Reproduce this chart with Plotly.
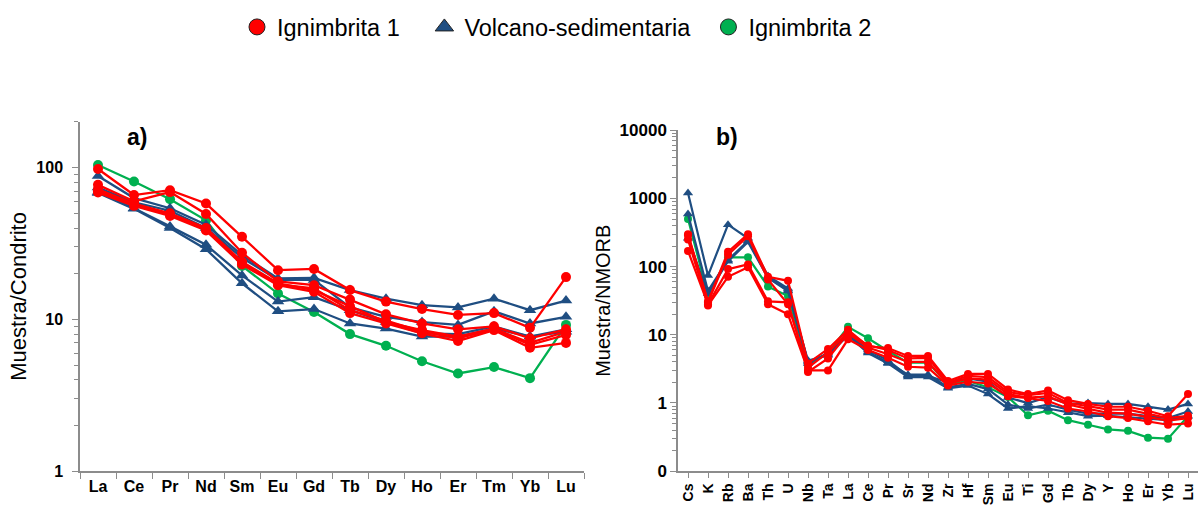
import plotly.graph_objects as go

# ---- categories ----
ree = ["La", "Ce", "Pr", "Nd", "Sm", "Eu", "Gd", "Tb", "Dy", "Ho", "Er", "Tm", "Yb", "Lu"]
spider = ["Cs", "K", "Rb", "Ba", "Th", "U", "Nb", "Ta", "La", "Ce", "Pr", "Sr", "Nd",
          "Zr", "Hf", "Sm", "Eu", "Ti", "Gd", "Tb", "Dy", "Y", "Ho", "Er", "Yb", "Lu"]

# ---- a) chondrite-normalised REE ----
ign1_ree_1 = [98, 66, 71, 58, 35, 21.1, 21.5, 15.6, 13.1, 11.7, 10.7, 11.0, 8.8, 19.0]
ign1_ree_2 = [77, 60, 69, 49.5, 27.5, 17.8, 16.8, 13.5, 10.8, 9.4, 8.6, 9.0, 7.5, 8.6]
ign1_ree_3 = [72, 58, 50, 40, 24, 17.3, 15.6, 12.2, 9.6, 8.5, 7.7, 8.7, 7.0, 8.3]
ign1_ree_4 = [68.5, 56, 48, 38.5, 23, 16.8, 15.2, 11.0, 9.4, 8.1, 7.2, 8.5, 6.5, 7.0]
ign1_ree_5 = [70, 57, 49, 39, 23.5, 17.0, 16.0, 11.5, 9.8, 8.3, 7.5, 8.6, 6.8, 7.9]

volc_ree_1 = [88, 63, 54, 42, 26.5, 18.6, 18.8, 15.6, 13.7, 12.4, 12.0, 13.7, 11.5, 13.3]
volc_ree_2 = [74, 59, 52, 40, 25.5, 18.2, 18.2, 12.0, 10.4, 9.6, 9.2, 11.3, 9.4, 10.4]
volc_ree_3 = [69, 54, 41, 31, 19.5, 13.1, 14.0, 11.5, 9.6, 8.1, 8.0, 9.0, 7.7, 8.6]
volc_ree_4 = [68, 53.5, 40, 29, 17.3, 11.3, 11.7, 9.4, 8.7, 7.7, 7.7, 8.7, 7.7, 8.3]

ign2_ree_1 = [104, 81, 62, 45, 22.5, 14.8, 11.2, 8.0, 6.7, 5.3, 4.4, 4.85, 4.1, 9.2]

# ---- b) N-MORB-normalised spider diagram ----
ign1_sp_1 = [300, 31, 165, 300, 71, 62, 3.8, 6.2, 11.9, 6.8, 6.4, 4.9, 4.9, 2.1, 2.67,
             2.67, 1.58, 1.35, 1.53, 1.1, 0.97, 0.88, 0.88, 0.77, 0.64, 1.35]
ign1_sp_2 = [170, 28, 92, 108, 31, 30, 2.85, 4.5, 10.5, 6.5, 5.2, 4.0, 4.0, 1.9, 2.3,
             2.2, 1.35, 1.2, 1.25, 0.95, 0.82, 0.72, 0.7, 0.62, 0.55, 0.6]
ign1_sp_3 = [250, 27, 71, 98, 28, 20, 3.0, 3.0, 8.6, 6.0, 4.6, 3.4, 3.3, 1.8, 2.05,
             1.93, 1.26, 1.18, 1.07, 0.83, 0.75, 0.64, 0.6, 0.54, 0.48, 0.5]
ign1_sp_4 = [290, 30, 150, 280, 65, 28, 3.3, 5.5, 11.0, 7.0, 6.0, 4.5, 4.6, 2.0, 2.5,
             2.4, 1.45, 1.3, 1.4, 1.0, 0.9, 0.8, 0.8, 0.7, 0.6, 0.65]

volc_sp_1 = [1200, 74, 413, 260, 73, 48, 4.0, 5.2, 10.1, 6.0, 4.2, 2.5, 2.5, 2.0, 2.3,
             2.05, 1.2, 1.0, 1.22, 0.97, 1.0, 0.97, 0.97, 0.88, 0.8, 0.97]
volc_sp_2 = [590, 44, 125, 240, 70, 45, 3.8, 5.4, 10.5, 5.6, 3.9, 2.6, 2.6, 1.7, 1.9,
             1.6, 0.95, 0.83, 0.95, 0.8, 0.7, 0.7, 0.7, 0.64, 0.6, 0.75]
volc_sp_3 = [260, 40, 120, 230, 68, 44, 4.2, 5.0, 9.8, 5.4, 3.8, 2.4, 2.4, 1.64, 1.8,
             1.35, 0.83, 0.9, 0.83, 0.72, 0.64, 0.65, 0.62, 0.6, 0.56, 0.64]

ign2_sp_1 = [500, 38, 137, 137, 51, 37, 3.6, 5.4, 13.1, 8.9, 5.8, 3.9, 3.9, 1.9, 2.1,
             1.7, 1.22, 0.66, 0.77, 0.56, 0.48, 0.41, 0.39, 0.31, 0.30, 0.64]

RED = "#FF0000"
BLUE = "#1F4E82"
GREEN = "#00B050"
AXIS = "#8C8C8C"
FONT = "Liberation Sans, Arial, sans-serif"

groups_a = [
    ([ign1_ree_1, ign1_ree_2, ign1_ree_3, ign1_ree_4, ign1_ree_5], RED, "circle"),
    ([volc_ree_1, volc_ree_2, volc_ree_3, volc_ree_4], BLUE, "triangle-up"),
    ([ign2_ree_1], GREEN, "circle"),
]
groups_b = [
    ([ign2_sp_1], GREEN, "circle"),
    ([volc_sp_1, volc_sp_2, volc_sp_3], BLUE, "triangle-up"),
    ([ign1_sp_1, ign1_sp_2, ign1_sp_3, ign1_sp_4], RED, "circle"),
]

fig = go.Figure()

# panel a draws green first, then blue, red on top
for series, color, symbol in [groups_a[2], groups_a[1], groups_a[0]]:
    for ys in series:
        fig.add_trace(go.Scatter(
            x=ree, y=ys, mode="lines+markers", xaxis="x", yaxis="y",
            line=dict(color=color, width=2.3),
            marker=dict(color=color, symbol=symbol, size=10 if symbol == "circle" else 11),
            showlegend=False, hoverinfo="skip"))

for series, color, symbol in groups_b:
    for ys in series:
        fig.add_trace(go.Scatter(
            x=spider, y=ys, mode="lines+markers", xaxis="x2", yaxis="y2",
            line=dict(color=color, width=2.2),
            marker=dict(color=color, symbol=symbol, size=8 if symbol == "circle" else 9),
            showlegend=False, hoverinfo="skip"))

# legend entries (trailing no-break spaces widen the gap between items)
NB = "\u00a0"
for name, color, symbol in [("Ignimbrita 1" + NB * 3, RED, "circle"),
                            ("Volcano-sedimentaria" + NB * 2, BLUE, "triangle-up"),
                            ("Ignimbrita 2", GREEN, "circle")]:
    fig.add_trace(go.Scatter(
        x=[None], y=[None], mode="markers", name=name, xaxis="x", yaxis="y",
        marker=dict(color=color, symbol=symbol, size=16,
                    line=dict(color="#222222", width=1))))

H = 511
W = 1198


def fy(py):
    return (H - py) / H


def fx(px):
    return px / W


ytickfont = dict(family=FONT, size=16, color="#000000")

fig.update_layout(
    width=W, height=H,
    margin=dict(l=0, r=0, t=0, b=0),
    paper_bgcolor="white", plot_bgcolor="white",
    font=dict(family=FONT, color="#000000"),
    showlegend=True,
    legend=dict(orientation="h", x=fx(557), xanchor="center", y=fy(-4), yanchor="top",
                font=dict(family=FONT, size=23.5, color="#000000"),
                itemwidth=30, bgcolor="rgba(0,0,0,0)"),
    xaxis=dict(domain=[fx(80), fx(584)], type="category", categoryorder="array",
               categoryarray=ree, range=[-0.5, 13.5],
               showline=True, linecolor=AXIS, linewidth=1.5,
               ticks="outside", tickson="boundaries", ticklen=6, tickcolor=AXIS,
               tickfont=dict(family=FONT, size=16, color="#000000"),
               showgrid=False, zeroline=False,
               tickprefix="<b>", ticksuffix="</b>", anchor="y"),
    yaxis=dict(domain=[fy(480), fy(117)], type="log", range=[0, 2.303],
               showline=True, linecolor=AXIS, linewidth=1.5,
               ticks="outside", ticklen=6, tickcolor=AXIS,
               tickvals=[1, 10, 100], ticktext=["<b>1</b>", "<b>10</b>", "<b>100</b>"],
               tickfont=ytickfont, showgrid=False, zeroline=False,
               ticklabelstandoff=6,
               minor=dict(ticks="outside", ticklen=4, tickcolor=AXIS,
                          tickvals=[2, 3, 4, 5, 6, 7, 8, 9, 20, 30, 40, 50, 60, 70, 80, 90, 200]),
               title=dict(text="Muestra/Condrito", font=dict(family=FONT, size=22),
                          standoff=4),
               anchor="x"),
    xaxis2=dict(domain=[fx(678), 1.0], type="category", categoryorder="array",
                categoryarray=spider, range=[-0.5, 25.5],
                showline=True, linecolor=AXIS, linewidth=1.5,
                ticks="outside", ticklen=5, tickcolor=AXIS, tickangle=-90,
                tickfont=dict(family=FONT, size=14, color="#000000"),
                tickprefix="<b>", ticksuffix="</b>",
                showgrid=False, zeroline=False, anchor="y2"),
    yaxis2=dict(domain=[fy(480), fy(126)], type="log", range=[-1, 4],
                showline=True, linecolor=AXIS, linewidth=1.5,
                ticks="outside", ticklen=6, tickcolor=AXIS,
                tickvals=[0.1, 1, 10, 100, 1000, 10000],
                ticktext=["<b>0</b>", "<b>1</b>", "<b>10</b>", "<b>100</b>",
                          "<b>1000</b>", "<b>10000</b>"],
                tickfont=dict(family=FONT, size=17, color="#000000"),
                showgrid=False, zeroline=False,
                minor=dict(ticks="outside", ticklen=4, tickcolor=AXIS,
                           tickvals=[m * 10 ** e for e in range(-1, 4) for m in range(2, 10)]),
                title=dict(text="Muestra/NMORB", font=dict(family=FONT, size=20),
                           standoff=4),
                anchor="x2"),
    annotations=[
        dict(text="<b>a)</b>", x=fx(137), y=fy(133), xref="paper", yref="paper",
             xanchor="center", yanchor="middle",
             showarrow=False, font=dict(family=FONT, size=23, color="#000000")),
        dict(text="<b>b)</b>", x=fx(727), y=fy(133), xref="paper", yref="paper",
             xanchor="center", yanchor="middle",
             showarrow=False, font=dict(family=FONT, size=23, color="#000000")),
    ],
)

fig.write_html("out.html")
